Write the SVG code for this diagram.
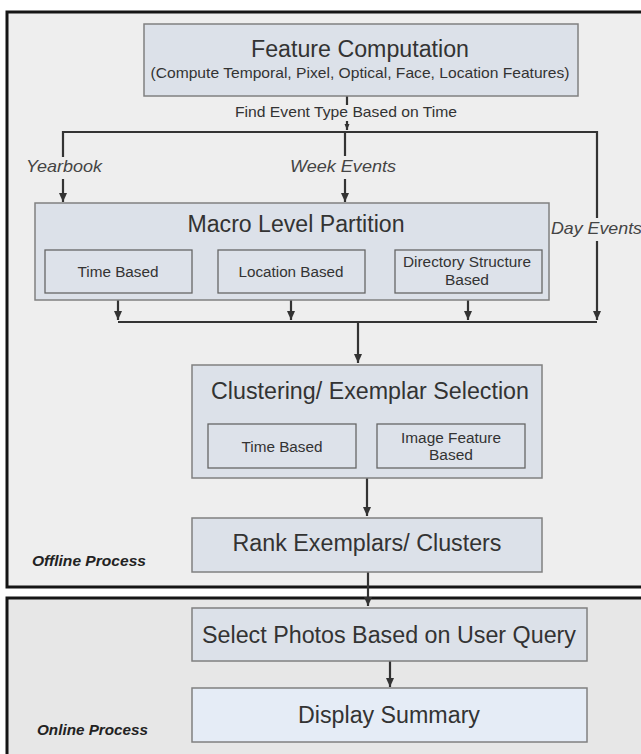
<svg xmlns="http://www.w3.org/2000/svg" width="641" height="754" viewBox="0 0 641 754">
<style>
.frame{stroke:#151515;stroke-width:3}
.box{fill:#dce1e9;stroke:#808080;stroke-width:1.5}
.sub{fill:#dde2ea;stroke:#666;stroke-width:1.3}
.light{fill:#e5ecf6;stroke:#808080;stroke-width:1.5}
text{font-family:"Liberation Sans",Arial,sans-serif;fill:#333;text-anchor:middle}
.t{font-size:23px}
.s{font-size:15.5px}
.m{font-size:15px}
.lbl{font-size:17px;font-style:italic;fill:#444;text-anchor:start}
.proc{font-size:15px;font-style:italic;font-weight:bold;fill:#222;text-anchor:start}
.c{fill:none;stroke:#333;stroke-width:2.2}
</style>
<defs>
<marker id="ah" markerUnits="userSpaceOnUse" markerWidth="9" markerHeight="10" refX="9" refY="4" orient="auto">
<path d="M0,0 L9,4 L0,8 z" fill="#333"/>
</marker>
<marker id="ahs" markerUnits="userSpaceOnUse" markerWidth="6" markerHeight="6" refX="6" refY="2.5" orient="auto">
<path d="M0,0 L6,2.5 L0,5 z" fill="#333"/>
</marker>
</defs>
<rect width="641" height="754" fill="#ffffff"/>
<g id="offline-frame">
<rect class="frame" x="7" y="12" width="660" height="575" fill="#eeeeee"/>
<text class="proc" x="32" y="566" textLength="114" lengthAdjust="spacingAndGlyphs">Offline Process</text>
</g>
<g id="online-frame">
<rect class="frame" x="7" y="598" width="660" height="180" fill="#e7e7e7"/>
<text class="proc" x="37" y="735" textLength="111" lengthAdjust="spacingAndGlyphs">Online Process</text>
</g>
<g id="connectors">
<path class="c" d="M347,96 V105"/>
<path class="c" d="M347,121 V130" marker-end="url(#ahs)"/>
<path class="c" d="M63,157 V132 H597 V218"/>
<path class="c" d="M345,132 V156"/>
<path class="c" d="M63,179 V202" marker-end="url(#ah)"/>
<path class="c" d="M345,179 V202" marker-end="url(#ah)"/>
<path class="c" d="M597,241 V320" marker-end="url(#ah)"/>
<path class="c" d="M118,300 V320" marker-end="url(#ah)"/>
<path class="c" d="M291,300 V320" marker-end="url(#ah)"/>
<path class="c" d="M468,300 V320" marker-end="url(#ah)"/>
<path class="c" d="M118,322 H597"/>
<path class="c" d="M358,322 V363" marker-end="url(#ah)"/>
<path class="c" d="M367,478 V516" marker-end="url(#ah)"/>
<path class="c" d="M368,572 V606" marker-end="url(#ah)"/>
<path class="c" d="M390,661 V687" marker-end="url(#ah)"/>
<text class="m" x="346" y="117" textLength="222" lengthAdjust="spacingAndGlyphs">Find Event Type Based on Time</text>
<text class="lbl" x="26" y="172" textLength="76" lengthAdjust="spacingAndGlyphs">Yearbook</text>
<text class="lbl" x="290" y="172" textLength="106" lengthAdjust="spacingAndGlyphs">Week Events</text>
<text class="lbl" x="551" y="234" textLength="91" lengthAdjust="spacingAndGlyphs">Day Events</text>
</g>
<g id="feature-computation">
<rect class="box" x="144" y="24" width="434" height="72"/>
<text class="t" x="360" y="57" textLength="218" lengthAdjust="spacingAndGlyphs">Feature Computation</text>
<text class="m" x="360" y="78" textLength="419" lengthAdjust="spacingAndGlyphs">(Compute Temporal, Pixel, Optical, Face, Location Features)</text>
</g>
<g id="macro-level-partition">
<rect class="box" x="35" y="203" width="514" height="97"/>
<text class="t" x="296" y="232" textLength="217" lengthAdjust="spacingAndGlyphs">Macro Level Partition</text>
<g id="macro-time">
<rect class="sub" x="45" y="250" width="147" height="43"/>
<text class="s" x="118" y="277" textLength="81" lengthAdjust="spacingAndGlyphs">Time Based</text>
</g>
<g id="macro-location">
<rect class="sub" x="218" y="250" width="147" height="43"/>
<text class="s" x="291" y="277" textLength="105" lengthAdjust="spacingAndGlyphs">Location Based</text>
</g>
<g id="macro-directory">
<rect class="sub" x="395" y="250" width="147" height="43"/>
<text class="s" x="467" y="267" textLength="128" lengthAdjust="spacingAndGlyphs">Directory Structure</text>
<text class="s" x="467" y="285" textLength="44" lengthAdjust="spacingAndGlyphs">Based</text>
</g>
</g>
<g id="clustering">
<rect class="box" x="192" y="365" width="350" height="113"/>
<text class="t" x="370" y="399" textLength="318" lengthAdjust="spacingAndGlyphs">Clustering/ Exemplar Selection</text>
<g id="cluster-time">
<rect class="sub" x="208" y="424" width="148" height="44"/>
<text class="s" x="282" y="452" textLength="81" lengthAdjust="spacingAndGlyphs">Time Based</text>
</g>
<g id="cluster-image">
<rect class="sub" x="377" y="424" width="148" height="44"/>
<text class="s" x="451" y="443" textLength="100" lengthAdjust="spacingAndGlyphs">Image Feature</text>
<text class="s" x="451" y="460" textLength="44" lengthAdjust="spacingAndGlyphs">Based</text>
</g>
</g>
<g id="rank">
<rect class="box" x="192" y="518" width="350" height="54"/>
<text class="t" x="367" y="551" textLength="269" lengthAdjust="spacingAndGlyphs">Rank Exemplars/ Clusters</text>
</g>
<g id="select-photos">
<rect class="box" x="192" y="608" width="395" height="53"/>
<text class="t" x="389" y="643" textLength="374" lengthAdjust="spacingAndGlyphs">Select Photos Based on User Query</text>
</g>
<g id="display-summary">
<rect class="light" x="192" y="688" width="395" height="54"/>
<text class="t" x="389" y="723" textLength="182" lengthAdjust="spacingAndGlyphs">Display Summary</text>
</g>
</svg>
